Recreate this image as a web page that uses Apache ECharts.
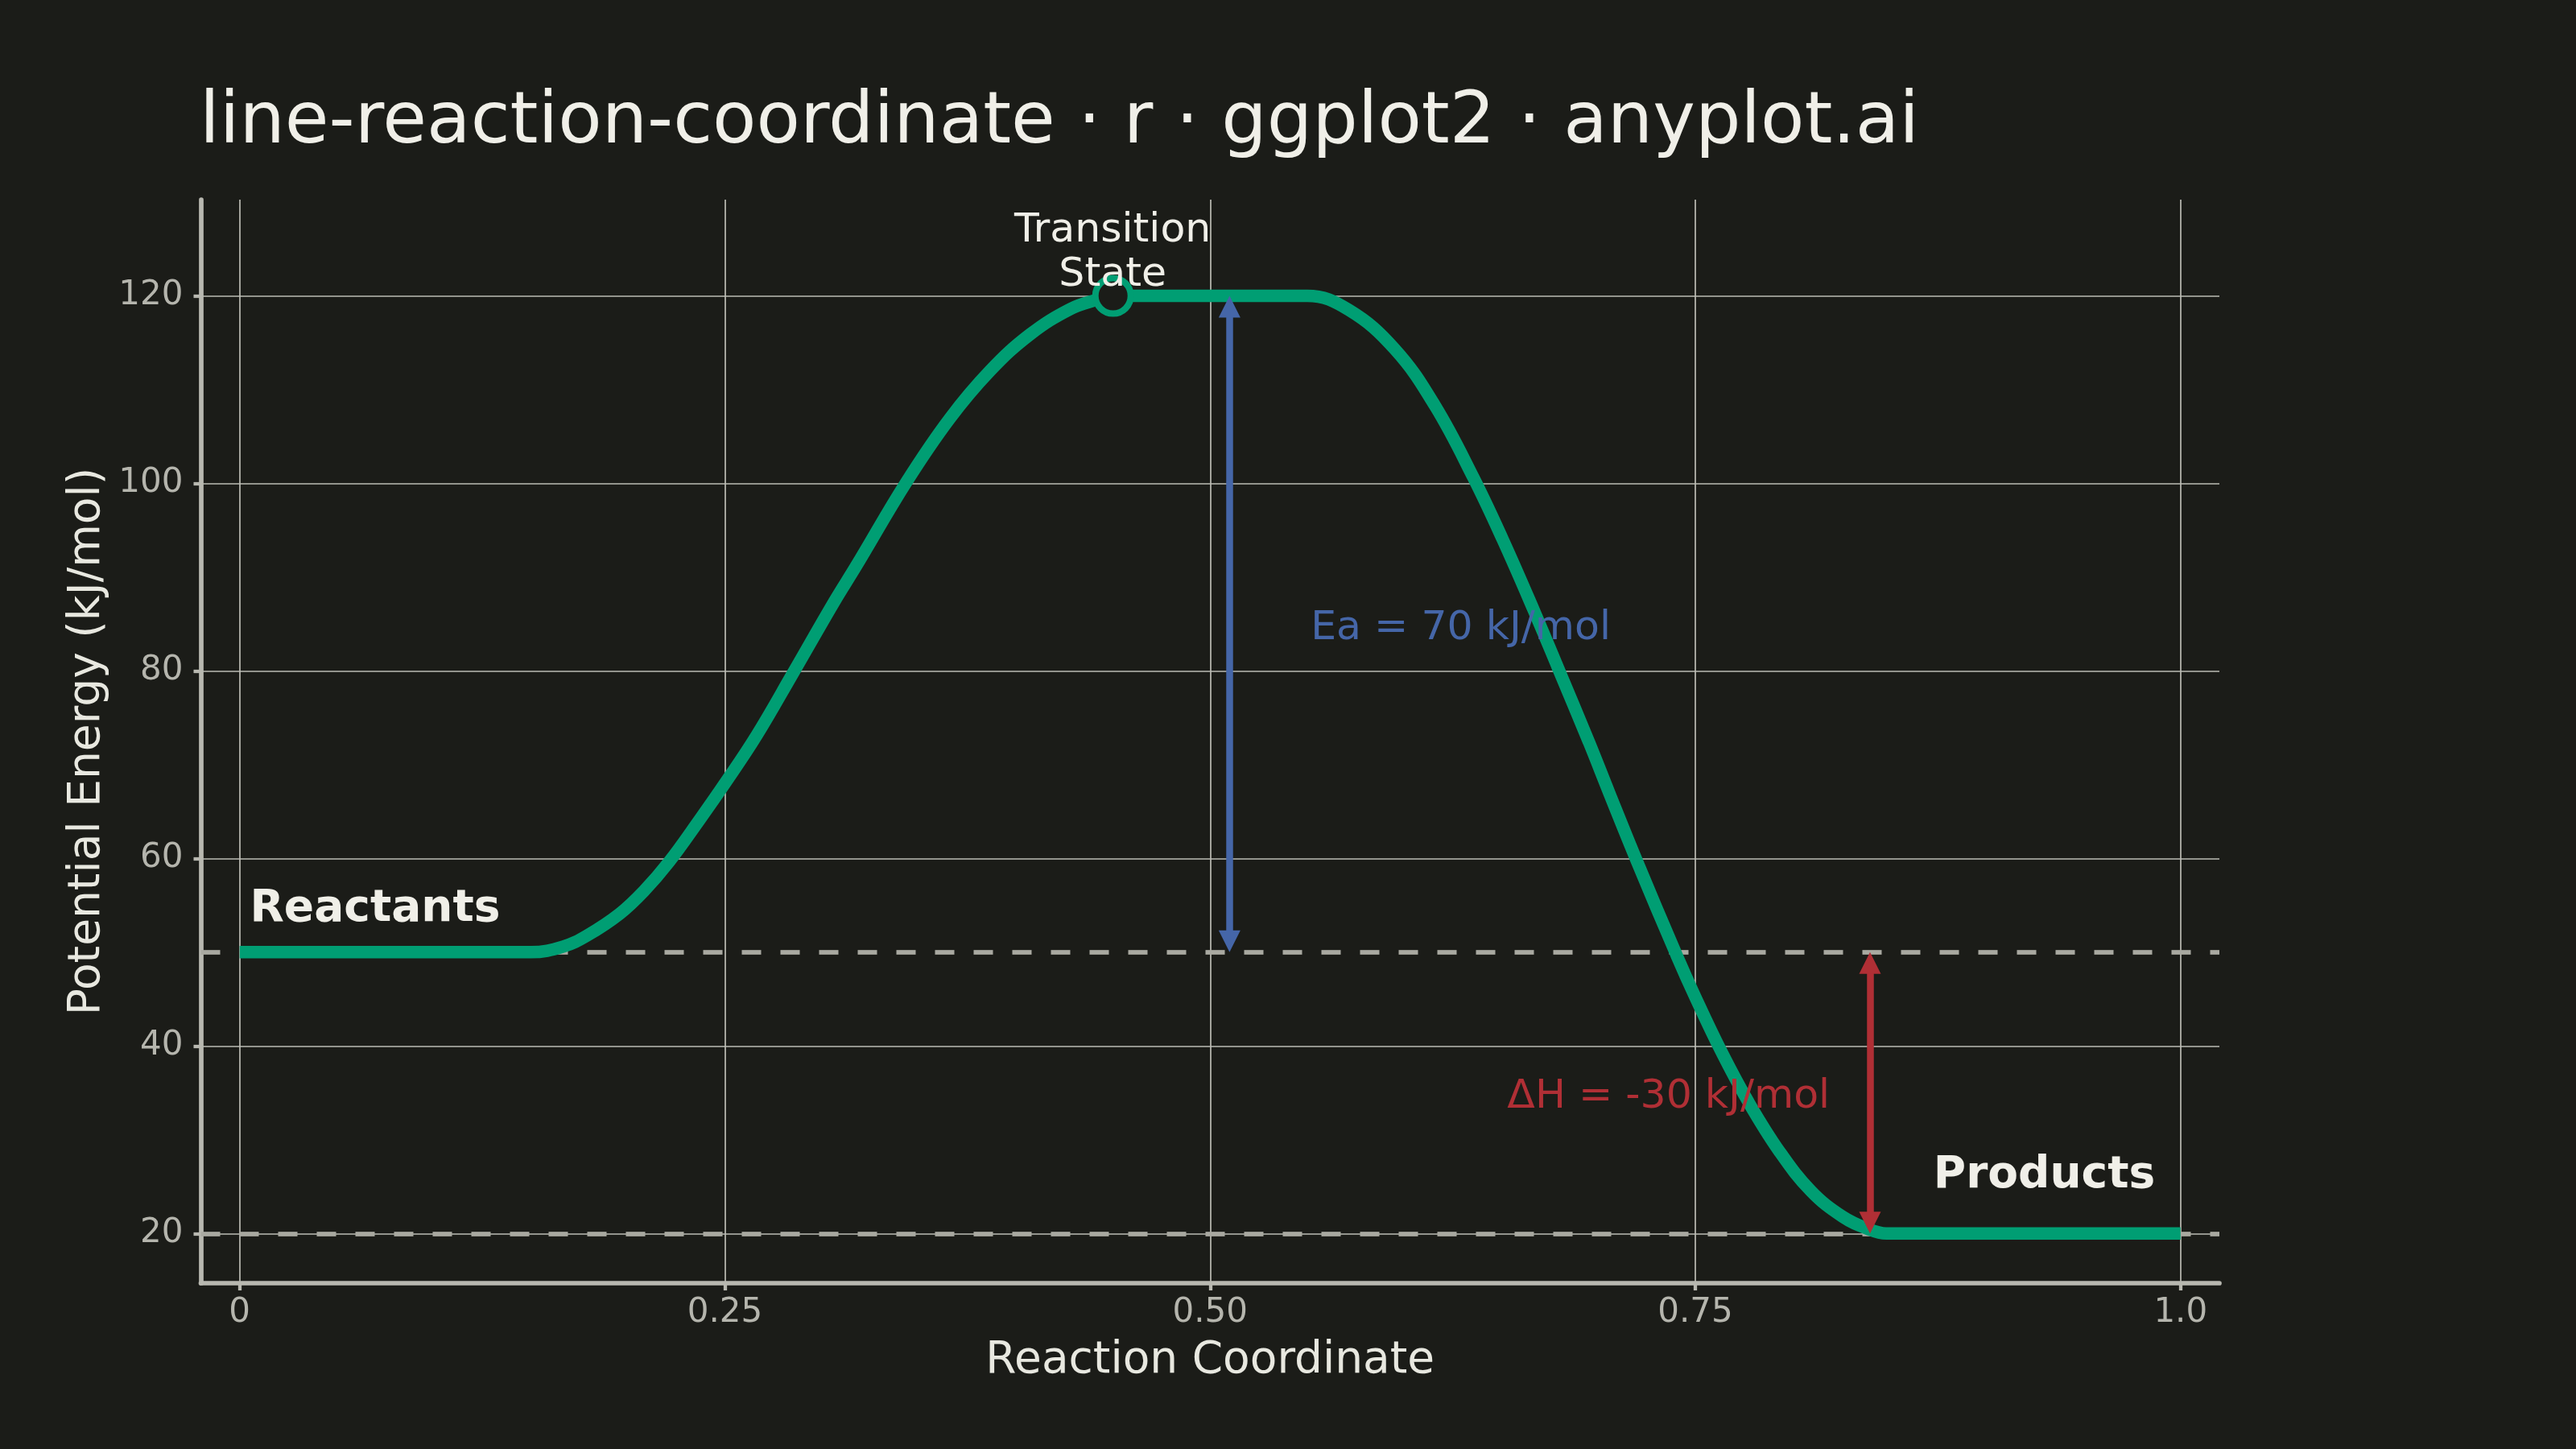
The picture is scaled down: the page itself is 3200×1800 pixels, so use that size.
<!DOCTYPE html>
<html>
<head>
<meta charset="utf-8">
<title>line-reaction-coordinate</title>
<script src="https://cdn.jsdelivr.net/npm/echarts@6/dist/echarts.min.js"></script>
<style>
    html, body { margin: 0; padding: 0; background: #1b1c18; }
    #chart { width: 3200px; height: 1800px; }
</style>
</head>
<body>
<div id="chart"></div>
<script>
// energy profile
var coordX = [0, 0.05, 0.10, 0.15, 0.1667, 0.1792, 0.1958, 0.2082, 0.2211, 0.2372, 0.25, 0.2663,
    0.2852, 0.3064, 0.3174, 0.3437, 0.3658, 0.3866, 0.4073, 0.428, 0.4419, 0.45, 0.50, 0.55,
    0.5714, 0.5952, 0.6158, 0.6357, 0.6508, 0.6667, 0.6793, 0.6952, 0.7056, 0.7201, 0.7403, 0.75,
    0.7634, 0.7774, 0.7935, 0.8097, 0.8258, 0.8387, 0.8484, 0.90, 0.95, 1.0];
var energy = [50, 50, 50, 50, 50.6, 51.8, 54.1, 56.5, 59.6, 64.2, 68.0, 73.1,
    79.8, 87.4, 91.1, 100.2, 106.9, 112.0, 115.9, 118.6, 119.6, 120, 120, 120,
    118.5, 114.3, 108.3, 100.6, 94.0, 86.5, 80.3, 72.4, 67.0, 59.6, 49.7, 45.2,
    39.4, 34.0, 28.7, 24.5, 21.8, 20.5, 20, 20, 20, 20];

var xTicks = [0, 0.25, 0.5, 0.75, 1.0];
var xTickLabels = ['0', '0.25', '0.50', '0.75', '1.0'];
var yTicks = [20, 40, 60, 80, 100, 120];

var reactantE = 50;
var productE = 20;
var tsCoord = 0.45;
var tsE = 120;
var eaArrowX = 0.51;
var dhArrowX = 0.84;

var noteText = ['Transition\nState', 'Reactants', 'Products', 'Ea = 70 kJ/mol', 'ΔH = -30 kJ/mol'];
var noteX = [0.45, 0.07, 0.93, 0.552, 0.8195];
var noteY = [125, 55, 26.6, 85, 35];

var FONT = '"DejaVu Sans", sans-serif';
var BG = '#1b1c18';
var GREEN = '#009E73';
var BLUE = '#4566a8';
var RED = '#b02f35';

var yMin = 14.7, yMax = 130.26;
var gridTop = 248, gridBottom = 206;
var headSize = 27;
// pull arrow ends in by half a head so the tips land on the energy levels
var pxPerUnit = (1800 - gridTop - gridBottom) / (yMax - yMin);
var inset = headSize / 2 / pxPerUnit;

var profile = coordX.map(function (x, i) { return [x, energy[i]]; });

var noteStyles = [
    { fontSize: 50.5, lineHeight: 55, color: '#f0efe8', align: 'center' },
    { fontSize: 55, fontWeight: 'bold', color: '#f0efe8', align: 'center' },
    { fontSize: 55, fontWeight: 'bold', color: '#f0efe8', align: 'center' },
    { fontSize: 50.5, color: BLUE, align: 'left' },
    { fontSize: 50.5, color: RED, align: 'right' }
];
var notes = noteText.map(function (t, i) {
    var st = noteStyles[i];
    return {
        value: [noteX[i], noteY[i]],
        label: {
            show: true,
            formatter: t,
            position: [0, 0],
            offset: [0, 6],
            align: st.align,
            verticalAlign: 'middle',
            fontFamily: FONT,
            fontSize: st.fontSize,
            fontWeight: st.fontWeight || 'normal',
            lineHeight: st.lineHeight || Math.round(st.fontSize * 1.1),
            color: st.color
        }
    };
});

var chart = echarts.init(document.getElementById('chart'));
var option = {
    backgroundColor: BG,
    animation: false,
    title: {
        text: 'line-reaction-coordinate · r · ggplot2 · anyplot.ai',
        left: 243,
        top: 104,
        textStyle: { fontFamily: FONT, fontSize: 89, fontWeight: 'normal', color: '#f0efe8' }
    },
    grid: { left: 249.5, right: 443, top: gridTop, bottom: gridBottom, containLabel: false },
    xAxis: {
        type: 'value',
        min: -0.02,
        max: 1.02,
        name: 'Reaction Coordinate',
        nameLocation: 'middle',
        nameGap: 69,
        nameTextStyle: { fontFamily: FONT, fontSize: 55, color: '#e8e8e0' },
        axisLine: { show: true, onZero: false, lineStyle: { color: '#b8b8b0', width: 5.7 } },
        axisTick: { show: true, length: 9, customValues: xTicks, lineStyle: { color: '#b8b8b0', width: 4.3 } },
        axisLabel: {
            customValues: xTicks,
            margin: 16,
            fontFamily: FONT,
            fontSize: 42,
            color: '#b5b5ad',
            formatter: function (v) {
                var k = xTicks.indexOf(v);
                return k >= 0 ? xTickLabels[k] : '';
            }
        },
        splitLine: { show: true, lineStyle: { color: '#bdbdb5', width: 1.7 } }
    },
    yAxis: {
        type: 'value',
        min: yMin,
        max: yMax,
        name: 'Potential Energy (kJ/mol)',
        nameLocation: 'middle',
        nameRotate: 90,
        nameGap: 110,
        nameTextStyle: { fontFamily: FONT, fontSize: 55, color: '#e8e8e0' },
        axisLine: { show: true, onZero: false, lineStyle: { color: '#b8b8b0', width: 5.7 } },
        axisTick: { show: true, length: 9, customValues: yTicks, lineStyle: { color: '#b8b8b0', width: 4.3 } },
        axisLabel: {
            customValues: yTicks,
            margin: 22,
            fontFamily: FONT,
            fontSize: 42,
            color: '#b5b5ad'
        },
        splitLine: { show: true, lineStyle: { color: '#bdbdb5', width: 1.7 } }
    },
    series: [
        {
            name: 'levels',
            type: 'line',
            data: [],
            z: 1,
            silent: true,
            markLine: {
                z: 1,
                silent: true,
                symbol: 'none',
                label: { show: false },
                lineStyle: { color: '#a9a9a1', width: 5.7, type: [24, 24] },
                data: [{ yAxis: reactantE }, { yAxis: productE }]
            }
        },
        {
            name: 'profile',
            type: 'line',
            data: profile,
            z: 3,
            smooth: 0.4,
            showSymbol: false,
            silent: true,
            lineStyle: { color: GREEN, width: 15.5, cap: 'butt' }
        },
        {
            name: 'arrows',
            type: 'line',
            data: [],
            z: 4,
            silent: true,
            markLine: {
                z: 6,
                silent: true,
                symbol: ['triangle', 'triangle'],
                symbolSize: headSize,
                label: { show: false },
                data: [
                    [
                        { coord: [eaArrowX, reactantE + inset], lineStyle: { color: BLUE, width: 8.5, type: 'solid' }, itemStyle: { color: BLUE } },
                        { coord: [eaArrowX, tsE - inset] }
                    ],
                    [
                        { coord: [dhArrowX, reactantE - inset], lineStyle: { color: RED, width: 8.5, type: 'solid' }, itemStyle: { color: RED } },
                        { coord: [dhArrowX, productE + inset] }
                    ]
                ]
            }
        },
        {
            name: 'transition state',
            type: 'scatter',
            z: 7,
            silent: true,
            symbol: 'circle',
            symbolSize: 44,
            itemStyle: { color: BG, borderColor: GREEN, borderWidth: 8, opacity: 1 },
            data: [[tsCoord, tsE]]
        },
        {
            name: 'notes',
            type: 'scatter',
            z: 8,
            silent: true,
            symbolSize: 1,
            itemStyle: { color: 'rgba(0,0,0,0)', opacity: 1 },
            data: notes
        }
    ]
};
chart.setOption(option);
</script>
</body>
</html>
